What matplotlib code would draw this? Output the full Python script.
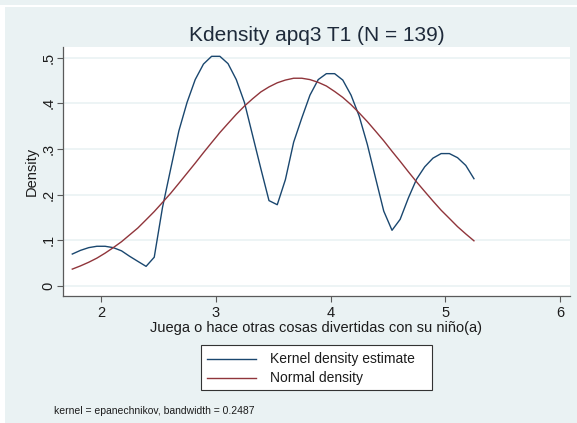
import matplotlib
matplotlib.use("Agg")
import matplotlib.pyplot as plt
from matplotlib.patches import Rectangle
from matplotlib.lines import Line2D

plt.rcParams['font.family'] = ['Liberation Sans', 'DejaVu Sans']

# evaluation grid (50 points over the data range)
grid_x = [1.750, 1.821, 1.893, 1.964, 2.036, 2.107, 2.179, 2.250, 2.321, 2.393,
          2.464, 2.536, 2.607, 2.679, 2.750, 2.821, 2.893, 2.964, 3.036, 3.107,
          3.179, 3.250, 3.321, 3.393, 3.464, 3.536, 3.607, 3.679, 3.750, 3.821,
          3.893, 3.964, 4.036, 4.107, 4.179, 4.250, 4.321, 4.393, 4.464, 4.536,
          4.607, 4.679, 4.750, 4.821, 4.893, 4.964, 5.036, 5.107, 5.179, 5.250]

kde_y = [0.070, 0.078, 0.084, 0.087, 0.087, 0.084, 0.077, 0.065, 0.054, 0.043,
         0.063, 0.172, 0.256, 0.340, 0.402, 0.452, 0.486, 0.503, 0.503, 0.487,
         0.452, 0.402, 0.330, 0.257, 0.187, 0.178, 0.233, 0.315, 0.368, 0.418,
         0.452, 0.465, 0.465, 0.451, 0.418, 0.372, 0.310, 0.236, 0.164, 0.122,
         0.146, 0.193, 0.234, 0.261, 0.280, 0.290, 0.290, 0.281, 0.264, 0.235]

normal_y = [0.037, 0.044, 0.052, 0.061, 0.072, 0.084, 0.097, 0.112, 0.127, 0.145,
            0.163, 0.183, 0.203, 0.225, 0.247, 0.269, 0.292, 0.314, 0.336, 0.356,
            0.376, 0.394, 0.410, 0.425, 0.436, 0.445, 0.451, 0.455, 0.455, 0.452,
            0.446, 0.438, 0.426, 0.413, 0.397, 0.379, 0.360, 0.339, 0.318, 0.295,
            0.273, 0.250, 0.228, 0.207, 0.186, 0.166, 0.148, 0.130, 0.114, 0.099]

x_ticks = [2, 3, 4, 5, 6]
y_ticks = [0, 0.1, 0.2, 0.3, 0.4, 0.5]
y_tick_labels = ['0', '.1', '.2', '.3', '.4', '.5']

BG = '#eaf2f3'
NAVY = '#1a476f'
MAROON = '#90353b'
TXT = '#1c1c1c'
AX = '#5a5a5a'

W, H = 577, 423
fig = plt.figure(figsize=(W / 100, H / 100), dpi=100, facecolor=BG)


def fx(px):
    return px / W


def fy(py):
    return 1 - py / H


# white frame strips of the graph window
fig.patches.append(Rectangle((0, 0), fx(5), fy(7), transform=fig.transFigure,
                             facecolor='white', edgecolor='none'))
fig.patches.append(Rectangle((0, fy(7)), 1, fy(5) - fy(7), transform=fig.transFigure,
                             facecolor='white', edgecolor='none'))

ax = fig.add_axes([fx(63), fy(296), fx(570) - fx(63), fy(47) - fy(296)])
ax.set_facecolor('white')

for yv in y_ticks:
    ax.axhline(yv, color=BG, lw=1.2, zorder=1)

ax.plot(grid_x, kde_y, color=NAVY, lw=1.0, zorder=3)
ax.plot(grid_x, normal_y, color=MAROON, lw=1.0, zorder=3)

ax.set_xlim(1.669, 6.087)
ax.set_ylim(-0.0219, 0.5234)

ax.set_xticks(x_ticks)
ax.set_xticklabels([str(v) for v in x_ticks])
ax.set_yticks(y_ticks)
ax.set_yticklabels(y_tick_labels)
for lbl in ax.get_yticklabels():
    lbl.set_rotation(90)
    lbl.set_va('center')

ax.tick_params(axis='both', direction='out', length=4, width=0.8, color=AX,
               labelsize=10.5, labelcolor=TXT)
ax.tick_params(axis='x', pad=3)
ax.tick_params(axis='y', pad=1.5)

for s in ['top', 'right']:
    ax.spines[s].set_visible(False)
for s in ['left', 'bottom']:
    ax.spines[s].set_color(AX)
    ax.spines[s].set_linewidth(0.9)

ax.set_title('Kdensity apq3 T1 (N = 139)', fontsize=15, color='#1e2a3a', pad=4)
ax.set_xlabel('Juega o hace otras cosas divertidas con su niño(a)', fontsize=10.5,
              color=TXT, labelpad=1)
ax.set_ylabel('Density', fontsize=10.5, color=TXT, labelpad=2)

# legend box
fig.patches.append(Rectangle((fx(201), fy(390)), fx(432) - fx(201), fy(345) - fy(390),
                             transform=fig.transFigure, facecolor='white',
                             edgecolor='#333333', lw=0.8))
for py, col, label in [(359, NAVY, 'Kernel density estimate'),
                       (378, MAROON, 'Normal density')]:
    fig.lines.append(Line2D([fx(207), fx(256)], [fy(py), fy(py)], color=col, lw=1.0,
                            transform=fig.transFigure))
    fig.text(fx(270), fy(py), label, fontsize=10, color=TXT, va='center', ha='left')

fig.text(fx(54), fy(410.5), 'kernel = epanechnikov, bandwidth = 0.2487', fontsize=7.5,
         color=TXT, va='center', ha='left')

fig.savefig('out.png', dpi=100, facecolor=BG)
